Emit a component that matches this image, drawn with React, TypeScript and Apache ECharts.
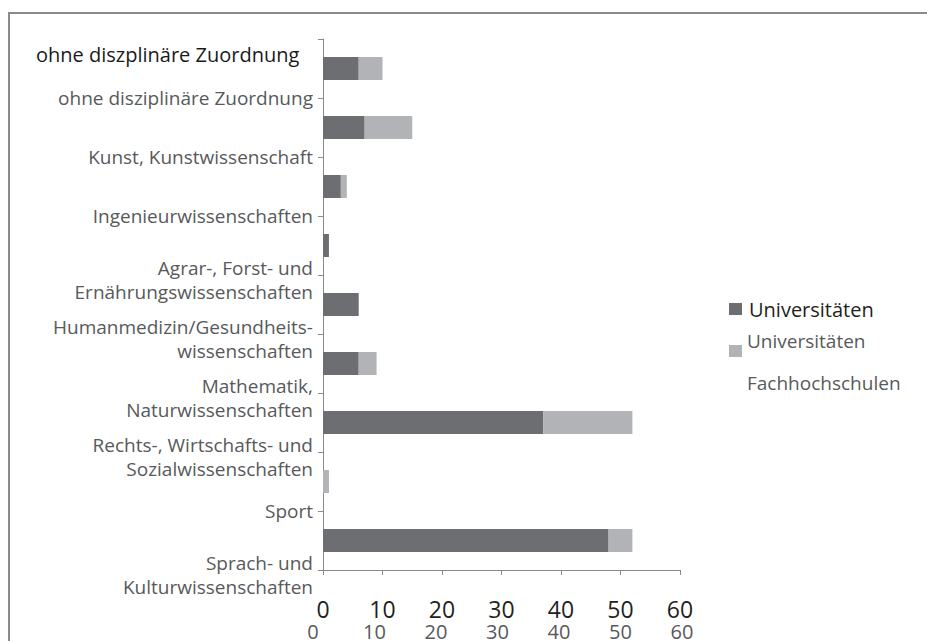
import React, { useEffect, useRef } from "react";
import * as echarts from "echarts";

const tickLabels: string[] = [
  "",
  "ohne disziplinäre Zuordnung",
  "Kunst, Kunstwissenschaft",
  "Ingenieurwissenschaften",
  "Agrar-, Forst- und\nErnährungswissenschaften",
  "Humanmedizin/Gesundheits-\nwissenschaften",
  "Mathematik,\nNaturwissenschaften",
  "Rechts-, Wirtschafts- und\nSozialwissenschaften",
  "Sport",
  "Sprach- und\nKulturwissenschaften",
];

const bandCategories: string[] = [
  "ohne diszplinäre Zuordnung",
  "ohne disziplinäre Zuordnung",
  "Kunst, Kunstwissenschaft",
  "Ingenieurwissenschaften",
  "Agrar-, Forst- und Ernährungswissenschaften",
  "Humanmedizin/Gesundheitswissenschaften",
  "Mathematik, Naturwissenschaften",
  "Rechts-, Wirtschafts- und Sozialwissenschaften",
  "Sprach- und Kulturwissenschaften",
];

const universitaeten: number[] = [6, 7, 3, 1, 6, 6, 37, 0, 48];
const fachhochschulen: number[] = [4, 8, 1, 0, 0, 3, 15, 1, 4];

const xTicks: number[] = [0, 10, 20, 30, 40, 50, 60];
const headerLabel = "ohne diszplinäre Zuordnung";
const legendNames = ["Universitäten", "Fachhochschulen"];
const legendSecondLines = ["Universitäten", "Fachhochschulen"];

const FONT = "'Open Sans', 'Noto Sans', sans-serif";
const DARK = "#6d6e71";
const LIGHT = "#b1b3b6";
const TEXT = "#58595b";

export default function App() {
  const ref = useRef<HTMLDivElement>(null);
  useEffect(() => {
    if (!ref.current) return;
    const chart = echarts.init(ref.current, undefined, { renderer: "svg" });
    const xMin = xTicks[0];
    const xMax = xTicks[xTicks.length - 1];
    const xInterval = xTicks[1] - xTicks[0];
    const labelStyle = { fontFamily: FONT, fontSize: 19, color: TEXT, lineHeight: 24 };
    chart.setOption({
      animation: false,
      backgroundColor: "#ffffff",
      textStyle: { fontFamily: FONT },
      title: {
        text: headerLabel,
        left: 31,
        top: 39,
        textStyle: { fontFamily: FONT, fontSize: 20, fontWeight: "normal", color: "#1a1a1a" },
      },
      legend: [
        {
          data: [legendNames[0]],
          left: 724,
          top: 292,
          orient: "vertical",
          icon: "rect",
          itemWidth: 13,
          itemHeight: 12,
          itemGap: 0,
          selectedMode: false,
          textStyle: { fontFamily: FONT, fontSize: 20, color: "#231f20", lineHeight: 24, padding: [0, 0, 0, 2] },
        },
        {
          data: [legendNames[1]],
          left: 724,
          top: 304,
          orient: "vertical",
          icon: "rect",
          itemWidth: 13,
          itemHeight: 12,
          itemGap: 0,
          selectedMode: false,
          formatter: () => " \n" + legendSecondLines[0] + "\n \n" + legendSecondLines[1],
          textStyle: { fontFamily: FONT, fontSize: 19, color: TEXT, lineHeight: 21 },
        },
      ],
      grid: [
        { left: 323, right: 247, top: 39, bottom: 71, containLabel: false },
        { left: 313, right: 245, top: 39, bottom: 71, containLabel: false },
      ],
      xAxis: [
        {
          type: "value",
          gridIndex: 0,
          min: xMin,
          max: xMax,
          interval: xInterval,
          splitLine: { show: false },
          axisLine: { show: true, lineStyle: { color: "#8a8a8a", width: 1 } },
          axisTick: { show: true, length: 5, lineStyle: { color: "#8a8a8a" } },
          axisLabel: { fontFamily: FONT, fontSize: 23, color: "#231f20", margin: 27, lineHeight: 23 },
        },
        {
          type: "value",
          gridIndex: 1,
          min: xMin,
          max: xMax,
          interval: xInterval,
          splitLine: { show: false },
          axisLine: { show: false },
          axisTick: { show: false },
          axisLabel: { fontFamily: FONT, fontSize: 20, color: TEXT, margin: 54, lineHeight: 20 },
        },
      ],
      yAxis: [
        {
          type: "category",
          gridIndex: 0,
          data: bandCategories,
          inverse: true,
          axisLine: { show: true, lineStyle: { color: "#8a8a8a", width: 1 } },
          axisTick: { show: true, length: 5, lineStyle: { color: "#8a8a8a" } },
          axisLabel: { show: false },
        },
        {
          type: "category",
          gridIndex: 0,
          position: "left",
          boundaryGap: false,
          inverse: true,
          data: tickLabels,
          axisLine: { show: false },
          axisTick: { show: false },
          axisLabel: {
            ...labelStyle,
            margin: 10,
            align: "right",
            interval: 0,
            formatter: (v: string) => {
              if (!v) return "";
              const lines = v.split("\n");
              if (lines.length === 1) return "{t|" + v + "}";
              return "{e| }\n" + lines.map((l) => "{t|" + l + "}").join("\n");
            },
            rich: {
              t: { ...labelStyle, align: "right" },
              e: { fontFamily: FONT, fontSize: 8, lineHeight: 10, color: TEXT, align: "right" },
            },
          },
        },
        {
          type: "category",
          gridIndex: 1,
          data: bandCategories,
          show: false,
        },
      ],
      series: [
        {
          name: legendNames[0],
          type: "bar",
          stack: "total",
          xAxisIndex: 0,
          yAxisIndex: 0,
          barWidth: 23,
          itemStyle: { color: DARK },
          data: universitaeten,
        },
        {
          name: legendNames[1],
          type: "bar",
          stack: "total",
          xAxisIndex: 0,
          yAxisIndex: 0,
          barWidth: 23,
          itemStyle: { color: LIGHT },
          data: fachhochschulen,
        },
      ],
      graphic: [
        {
          type: "rect",
          shape: { x: 9, y: 13, width: 1200, height: 1200 },
          style: { fill: "none", stroke: "#8a8a8a", lineWidth: 2 },
          silent: true,
        },
      ],
    });
    return () => chart.dispose();
  }, []);
  return (
    <div
      ref={ref}
      style={{ position: "fixed", left: 0, top: 0, width: 927, height: 641, background: "#fff" }}
    />
  );
}
